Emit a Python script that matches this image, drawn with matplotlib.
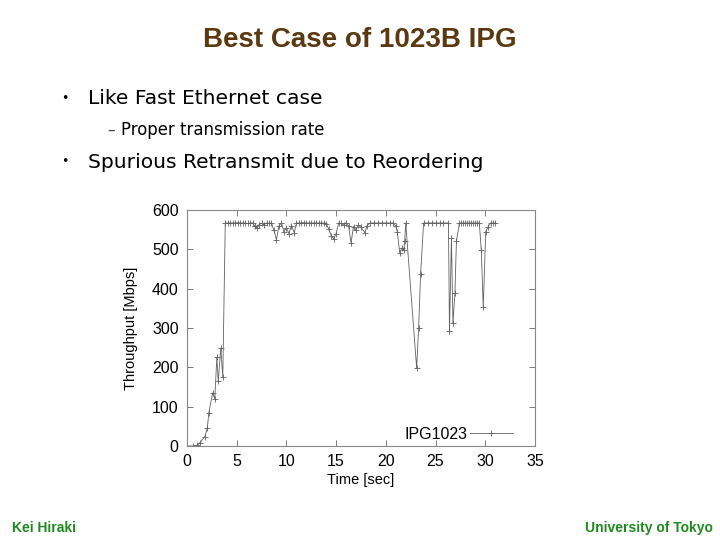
import matplotlib
matplotlib.use("Agg")
import matplotlib.pyplot as plt

# Throughput trace (time in sec, throughput in Mbps)
time_sec = [
    0.0, 0.6, 1.0, 1.3, 1.8, 2.05, 2.2, 2.58, 2.8, 3.0, 3.15, 3.4, 3.6, 3.85,
    4.1, 4.35, 4.6, 4.85, 5.1, 5.35, 5.6, 5.85, 6.1, 6.35, 6.6, 6.8, 7.0, 7.25,
    7.5, 7.75, 8.0, 8.25, 8.5, 8.75, 9.0, 9.25, 9.5, 9.75, 10.0, 10.25, 10.5,
    10.8, 11.0, 11.25, 11.5, 11.75, 12.0, 12.25, 12.5, 12.75, 13.0, 13.25, 13.5,
    13.75, 14.0, 14.25, 14.5, 14.75, 15.0, 15.25, 15.5, 15.75, 16.0, 16.25,
    16.5, 16.75, 17.0, 17.25, 17.5, 17.9, 18.1, 18.4, 18.8, 19.2, 19.6, 20.0,
    20.4, 20.7, 21.0, 21.15, 21.4, 21.6, 21.8, 21.9, 22.0, 23.1, 23.3, 23.5,
    23.8, 24.2, 24.6, 25.0, 25.4, 25.8, 26.3, 26.4, 26.6, 26.75, 26.95, 27.1,
    27.4, 27.6, 27.8, 28.0, 28.2, 28.4, 28.6, 28.8, 29.0, 29.2, 29.4, 29.6,
    29.8, 30.05, 30.3, 30.55, 30.8, 31.0,
]
throughput = [
    0, 0, 2, 8, 24, 47, 85, 135, 120, 225, 164, 249, 175, 567,
    567, 567, 567, 567, 568, 567, 567, 567, 566, 567, 567, 560, 555, 563,
    566, 562, 567, 566, 567, 548, 524, 560, 567, 545, 555, 540, 560,
    542, 567, 567, 567, 568, 567, 567, 567, 567, 567, 567, 567,
    567, 565, 552, 535, 527, 540, 567, 566, 562, 567, 560,
    517, 558, 550, 562, 556, 542, 560, 567, 567, 567, 567, 567,
    567, 567, 560, 545, 491, 503, 499, 520, 567, 198, 301, 438,
    567, 567, 567, 567, 567, 567, 567, 293, 528, 312, 388, 520,
    567, 567, 567, 567, 567, 567, 567, 567, 567, 567, 567, 499,
    353, 545, 558, 567, 567, 567,
]

x_ticks = [0, 5, 10, 15, 20, 25, 30, 35]
y_ticks = [0, 100, 200, 300, 400, 500, 600]

TITLE_COLOR = "#5a3810"
FOOT_COLOR = "#1f8a1f"
BODY_FONT = ["DejaVu Sans"]

fig = plt.figure(figsize=(7.2, 5.4), dpi=100)
fig.patch.set_facecolor("white")

# Slide title and bullets
fig.text(0.5, 0.926, "Best Case of 1023B IPG", ha="center", va="center",
         fontsize=20, fontweight="bold", color=TITLE_COLOR,
         family="Liberation Sans")
fig.text(0.085, 0.818, "•", ha="left", va="center", fontsize=9, family=BODY_FONT)
fig.text(0.122, 0.818, "Like Fast Ethernet case", ha="left", va="center",
         fontsize=14.6, family=BODY_FONT)
fig.text(0.149, 0.759, "–", ha="left", va="center", fontsize=11,
         family=BODY_FONT, color="#444444")
fig.text(0.168, 0.759, "Proper transmission rate", ha="left", va="center",
         fontsize=11.9, family=BODY_FONT)
fig.text(0.085, 0.700, "•", ha="left", va="center", fontsize=9, family=BODY_FONT)
fig.text(0.122, 0.700, "Spurious Retransmit due to Reordering", ha="left",
         va="center", fontsize=14.6, family=BODY_FONT)

# Footer
fig.text(0.016, 0.022, "Kei Hiraki", ha="left", va="center", fontsize=10,
         fontweight="bold", color=FOOT_COLOR, family="Liberation Sans")
fig.text(0.99, 0.022, "University of Tokyo", ha="right", va="center",
         fontsize=10, fontweight="bold", color=FOOT_COLOR,
         family="Liberation Sans")

# Embedded gnuplot-style chart
ax = fig.add_axes([0.2597, 0.1741, 0.4833, 0.437])
ax.plot(time_sec, throughput, color="#606060", linewidth=0.6, marker="+",
        markersize=5, markeredgewidth=0.6, label="IPG1023")
ax.set_xlim(0, 35)
ax.set_ylim(0, 600)
ax.set_xticks(x_ticks)
ax.set_yticks(y_ticks)
ax.tick_params(direction="in", length=4, width=0.6, color="#666666",
               top=True, right=True, labelsize=11.5, pad=6)
for lbl in ax.get_xticklabels() + ax.get_yticklabels():
    lbl.set_family("Liberation Sans")
for sp in ax.spines.values():
    sp.set_color("#888888")
    sp.set_linewidth(0.8)
ax.set_xlabel("Time [sec]", fontsize=10.5, family="Liberation Sans", labelpad=3)
ax.set_ylabel("Throughput [Mbps]", fontsize=10.5, family="Liberation Sans",
              labelpad=10)
ax.legend(loc="lower right", bbox_to_anchor=(0.945, 0.005), frameon=False,
          handlelength=2.7, handletextpad=0.15, borderaxespad=0.0,
          borderpad=0.2, markerfirst=False,
          prop={"family": "Liberation Sans", "size": 11.5})

fig.savefig("out.png", dpi=100, facecolor="white")
plt.close(fig)
